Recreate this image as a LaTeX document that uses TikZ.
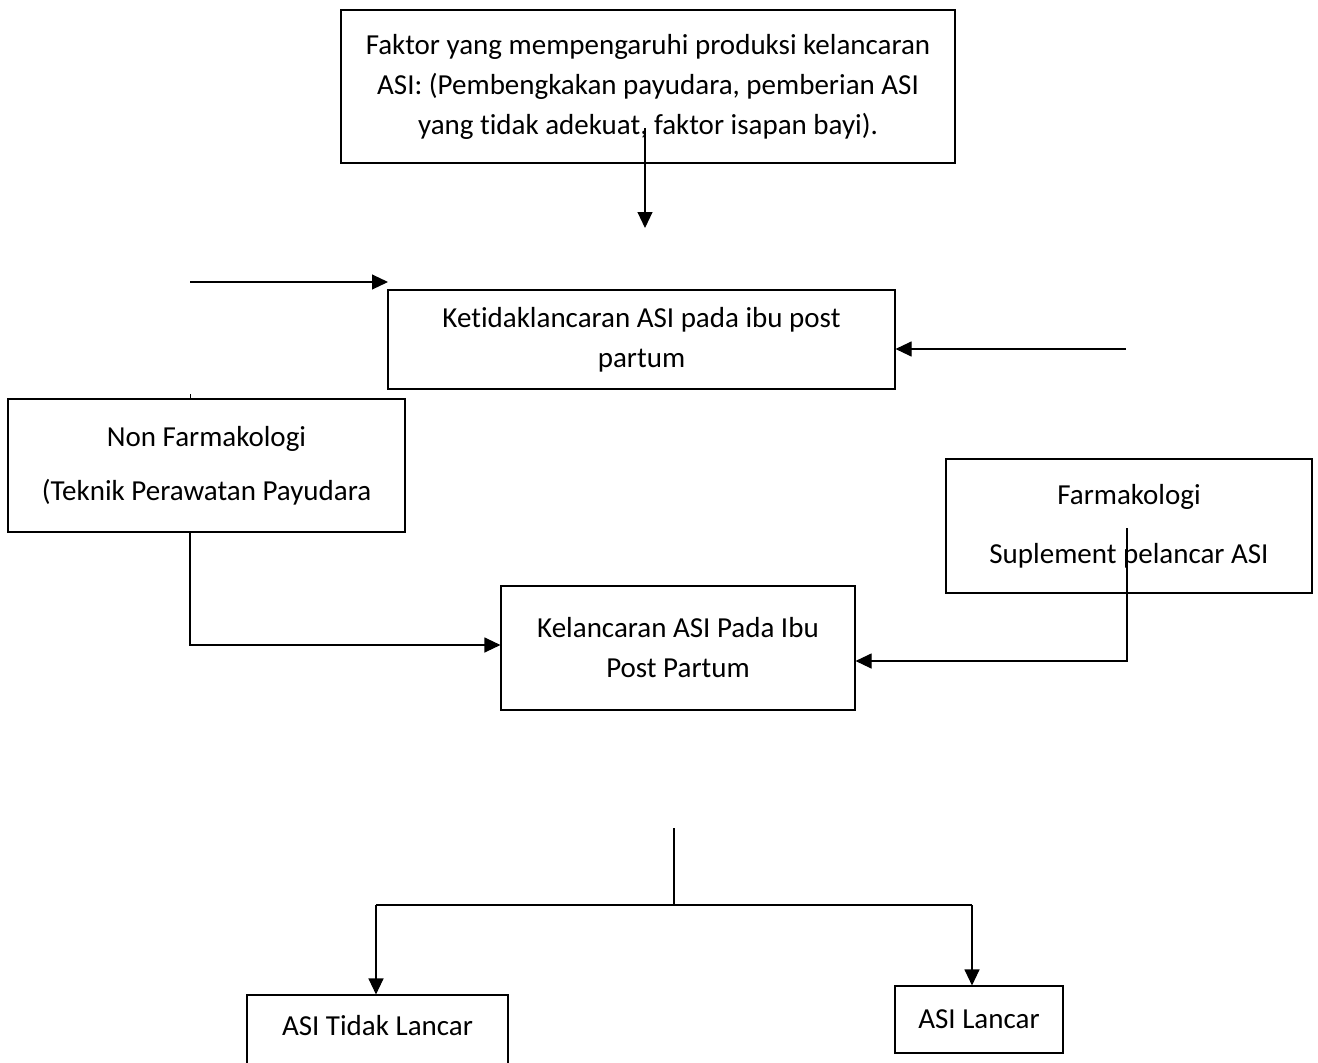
\documentclass[tikz,border=0pt]{standalone}
\usepackage{fontspec}
\setmainfont{Carlito}[Ligatures=NoCommon]
\usetikzlibrary{arrows.meta}
\begin{document}
\begin{tikzpicture}[x=1pt,y=-1pt,
  box/.style={draw=black,line width=1.1pt,rectangle,inner sep=0pt,align=center,font=\fontsize{29}{40}\selectfont},
  lbl/.style={inner sep=0pt,align=center,font=\fontsize{29}{40}\selectfont},
  arr/.style={line width=1.1pt,-{Triangle[length=16pt,width=15pt]}},
  ln/.style={line width=1.1pt}]
\path[use as bounding box] (0,0) rectangle (1318,1063);
\clip (0,0) rectangle (1318,1063);
% boxes
\node[box,minimum width=614pt,minimum height=153pt] (top) at (648,86.5)
  {Faktor yang mempengaruhi produksi kelancaran\\ASI: (Pembengkakan payudara, pemberian ASI\\yang tidak adekuat, faktor isapan bayi).};
\node[box,minimum width=507pt,minimum height=99pt] (k) at (641.5,339.5)
  {Ketidaklancaran ASI pada ibu post\\partum};
\node[box,minimum width=397pt,minimum height=133pt] (nf) at (206.5,465.5)
  {Non Farmakologi\\[14pt](Teknik Perawatan Payudara};
\node[box,minimum width=354pt,minimum height=124pt] (kl) at (678,648)
  {Kelancaran ASI Pada Ibu\\Post Partum};
\node[box,minimum width=366pt,minimum height=134pt] (f) at (1129,526)
  {Farmakologi\\[19pt]Suplement pelancar ASI};
\node[draw=black,line width=1.1pt,rectangle,inner sep=0pt,minimum width=261pt,minimum height=100pt] (atlbox) at (377.5,1045) {};
\node[lbl] (atl) at (377.5,1026) {ASI Tidak Lancar};
\node[box,minimum width=168pt,minimum height=67pt] (al) at (979,1019.5) {ASI Lancar};
% coordinates
\coordinate (a1) at (645,128);
\coordinate (a2) at (645,228);
\coordinate (b1) at (190,282);
\coordinate (b2) at (388,282);
\coordinate (c1) at (1126,349);
\coordinate (d1) at (190,532);
\coordinate (d2) at (190,645);
\coordinate (e1) at (1127,528);
\coordinate (e2) at (1127,661);
\coordinate (g1) at (674,828);
\coordinate (g2) at (674,905);
\coordinate (gl) at (376,905);
\coordinate (gr) at (972,905);
\coordinate (t1) at (190,394);
% connectors
\draw[arr] (a1) -- (a2);
\draw[arr] (b1) -- (b2);
\draw[arr] (c1) -- (c1 -| k.east);
\draw[arr] (d1) -- (d2) -- (d2 -| kl.west);
\draw[arr] (e1) -- (e2) -- (e2 -| kl.east);
\draw[ln] (g1) -- (g2);
\draw[ln] (gl) -- (gr);
\draw[arr] (gl) -- (gl |- atlbox.north);
\draw[arr] (gr) -- (gr |- al.north);
\draw[line width=0.6pt] (t1) -- (t1 |- nf.north);
\end{tikzpicture}
\end{document}
